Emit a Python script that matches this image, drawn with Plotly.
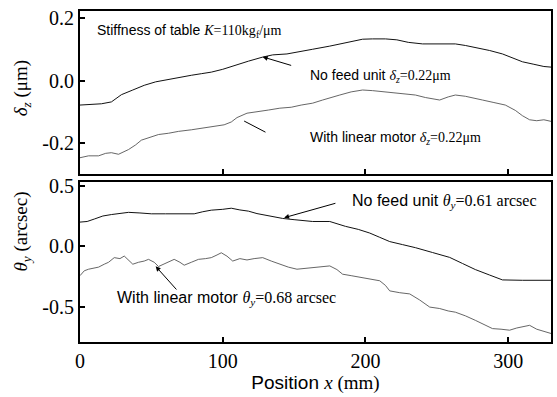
import plotly.graph_objects as go

# Vertical straightness of table (delta_z) vs position
pos_dz_nofeed = [0, 15, 22, 29, 37, 45, 53, 62, 70, 78, 85, 92, 100, 108, 118, 128, 135, 145, 152,
                 163, 175, 185, 192, 198, 205, 214, 222, 230, 240, 250, 263, 270, 277, 287, 296,
                 303, 310, 318, 325, 330]
dz_nofeed = [-0.078, -0.074, -0.068, -0.045, -0.03, -0.015, -0.004, 0.004, 0.01, 0.017, 0.022,
             0.027, 0.036, 0.048, 0.062, 0.075, 0.082, 0.085, 0.09, 0.1, 0.11, 0.12, 0.128, 0.132,
             0.133, 0.133, 0.13, 0.122, 0.117, 0.117, 0.117, 0.112, 0.106, 0.096, 0.085, 0.072,
             0.06, 0.052, 0.045, 0.043]

pos_dz_motor = [0, 6, 13, 18, 22, 27, 34, 39, 43, 49, 55, 62, 69, 78, 87, 94, 101, 106, 110, 117,
                124, 132, 140, 148, 155, 163, 170, 176, 182, 190, 198, 205, 214, 222, 229, 235,
                242, 248, 252, 258, 263, 270, 277, 282, 290, 298, 305, 310, 315, 320, 325, 330]
dz_motor = [-0.246, -0.24, -0.24, -0.232, -0.23, -0.235, -0.22, -0.205, -0.19, -0.182, -0.172,
            -0.168, -0.162, -0.157, -0.151, -0.146, -0.141, -0.132, -0.118, -0.104, -0.1, -0.094,
            -0.088, -0.085, -0.078, -0.072, -0.062, -0.055, -0.046, -0.036, -0.03, -0.032, -0.036,
            -0.041, -0.043, -0.046, -0.054, -0.06, -0.062, -0.052, -0.046, -0.05, -0.056, -0.062,
            -0.07, -0.078, -0.095, -0.112, -0.125, -0.128, -0.125, -0.13]

# Pitching of table (theta_y) vs position
pos_ty_nofeed = [0, 5, 10, 16, 22, 28, 34, 42, 50, 60, 70, 80, 86, 92, 100, 106, 112, 118, 124,
                 132, 142, 150, 163, 175, 186, 195, 203, 210, 217, 226, 235, 247, 259, 268, 277,
                 287, 296, 310, 320, 330]
ty_nofeed = [0.2, 0.205, 0.225, 0.25, 0.262, 0.27, 0.28, 0.275, 0.268, 0.268, 0.268, 0.268, 0.285,
             0.298, 0.305, 0.314, 0.3, 0.29, 0.27, 0.25, 0.23, 0.22, 0.205, 0.205, 0.165, 0.14,
             0.11, 0.075, 0.04, 0.015, -0.01, -0.05, -0.09, -0.14, -0.19, -0.235, -0.275, -0.278,
             -0.278, -0.278]

pos_ty_motor = [0, 3, 6, 10, 13, 17, 20, 24, 28, 31, 34, 37, 41, 45, 48, 52, 55, 60, 66, 70, 73,
                78, 83, 88, 92, 96, 99, 103, 107, 112, 117, 122, 128, 134, 140, 146, 152, 158,
                163, 169, 175, 180, 184, 190, 198, 204, 210, 214, 217, 224, 231, 238, 245, 252,
                258, 263, 270, 277, 283, 289, 295, 301, 306, 311, 315, 320, 325, 330]
ty_motor = [-0.24, -0.2, -0.187, -0.18, -0.17, -0.146, -0.13, -0.092, -0.1, -0.079, -0.11, -0.146,
            -0.13, -0.12, -0.106, -0.13, -0.165, -0.14, -0.106, -0.13, -0.154, -0.13, -0.106, -0.1,
            -0.092, -0.07, -0.052, -0.08, -0.12, -0.1, -0.111, -0.1, -0.092, -0.12, -0.146, -0.17,
            -0.187, -0.18, -0.173, -0.165, -0.16, -0.19, -0.228, -0.24, -0.255, -0.27, -0.282,
            -0.32, -0.365, -0.38, -0.39, -0.44, -0.498, -0.51, -0.53, -0.54, -0.57, -0.607, -0.64,
            -0.675, -0.68, -0.688, -0.67, -0.655, -0.648, -0.68, -0.7, -0.715]

x_ticks = [0, 100, 200, 300]
dz_ticks = [-0.2, 0.0, 0.2]
ty_ticks = [-0.5, 0.0, 0.5]

SERIF = "Liberation Serif, Times New Roman, serif"
SANS = "Liberation Sans, Arial, sans-serif"


def sf(t):
    return f'<span style="font-family:{SERIF}">{t}</span>'


fig = go.Figure()
fig.add_trace(go.Scatter(x=pos_dz_nofeed, y=dz_nofeed, mode="lines",
                         line=dict(color="#111", width=1), xaxis="x2", yaxis="y2"))
fig.add_trace(go.Scatter(x=pos_dz_motor, y=dz_motor, mode="lines",
                         line=dict(color="#555", width=0.9), xaxis="x2", yaxis="y2"))
fig.add_trace(go.Scatter(x=pos_ty_nofeed, y=ty_nofeed, mode="lines",
                         line=dict(color="#111", width=1), xaxis="x", yaxis="y"))
fig.add_trace(go.Scatter(x=pos_ty_motor, y=ty_motor, mode="lines",
                         line=dict(color="#555", width=0.9), xaxis="x", yaxis="y"))

axis_common = dict(showline=True, linecolor="black", linewidth=2, mirror=True,
                   ticks="inside", ticklen=5, tickwidth=1.5, tickcolor="black",
                   showgrid=False, zeroline=False)
tick_font = dict(family=SERIF, size=20, color="black")

fig.update_layout(
    width=557, height=397,
    margin=dict(l=80, r=4, t=7, b=55),
    plot_bgcolor="white", paper_bgcolor="white",
    showlegend=False,
    font=dict(family=SERIF, color="black", size=17),
    xaxis=dict(domain=[0, 1], range=[0, 330], anchor="y",
               tickvals=x_ticks, ticktext=[str(v) for v in x_ticks],
               tickfont=tick_font,
               title=dict(text=f'<span style="font-family:{SANS}">Position </span><i>x</i> (mm)',
                          font=dict(family=SERIF, size=19), standoff=2),
               **axis_common),
    yaxis=dict(domain=[0, 0.4836], range=[-0.785, 0.53], anchor="x",
               tickvals=ty_ticks, ticktext=["-0.5", "0.0", "0.5"],
               tickfont=tick_font, **axis_common),
    xaxis2=dict(domain=[0, 1], range=[0, 330], anchor="y2", matches="x",
                tickvals=x_ticks, showticklabels=False, **axis_common),
    yaxis2=dict(domain=[0.5075, 1], range=[-0.298, 0.222], anchor="x2",
                tickvals=dz_ticks, ticktext=["-0.2", "0.0", "0.2"],
                tickfont=tick_font, **axis_common),
)

ann_font = dict(family=SANS, size=14, color="black")
big_font = dict(family=SANS, size=16, color="black")
annotations = [
    # axis titles for the two panels
    dict(x=-57, y=85, xref="x domain", yref="paper", xanchor="center", yanchor="middle",
         text="<i>δ<sub>z</sub></i> (μm)", textangle=-90, showarrow=False,
         font=dict(family=SERIF, size=19, color="black")),
    dict(x=22, y=230, xref="paper", yref="paper", xanchor="center", yanchor="middle",
         text="<i>θ<sub>y</sub></i> (arcsec)", textangle=-90, showarrow=False,
         font=dict(family=SERIF, size=19, color="black")),
    dict(x=10.5, y=0.157, xref="x2", yref="y2", xanchor="left", yanchor="middle",
         text="Stiffness of table " + sf("<i>K</i>=110kg<sub>f</sub>/μm"), showarrow=False),
    dict(x=159.4, y=0.014, xref="x2", yref="y2", xanchor="left", yanchor="middle",
         text="No feed unit " + sf("<i>δ<sub>z</sub></i>=0.22μm"), showarrow=False),
    dict(x=160, y=-0.183, xref="x2", yref="y2", xanchor="left", yanchor="middle",
         text="With linear motor " + sf("<i>δ<sub>z</sub></i>=0.22μm"), showarrow=False),
    dict(x=189, y=0.366, xref="x", yref="y", xanchor="left", yanchor="middle",
         text="No feed unit " + sf("<i>θ<sub>y</sub></i>=0.61 arcsec"), showarrow=False,
         font=big_font),
    dict(x=24.5, y=-0.43, xref="x", yref="y", xanchor="left", yanchor="middle",
         text="With linear motor " + sf("<i>θ<sub>y</sub></i>=0.68 arcsec"), showarrow=False,
         font=big_font),
]
# pixel-positioned titles: convert to paper fractions
H_PLOT = 397 - 7 - 55
for a in annotations[:2]:
    a["y"] = (397 - 55 - a["y"]) / H_PLOT
annotations[0]["x"] = (22 - 80) / (557 - 80 - 4)
annotations[0]["xref"] = "paper"
annotations[1]["x"] = (22 - 80) / (557 - 80 - 4)

# leader arrows
arrows = [
    dict(x=128, y=0.0756, ax=149, ay=0.047, xref="x2", yref="y2", axref="x2", ayref="y2",
         arrowhead=2),
    dict(x=115, y=-0.129, ax=131, ay=-0.167, xref="x2", yref="y2", axref="x2", ayref="y2",
         arrowhead=0),
    dict(x=143, y=0.236, ax=180, ay=0.358, xref="x", yref="y", axref="x", ayref="y",
         arrowhead=2),
    dict(x=53, y=-0.163, ax=68.5, ay=-0.366, xref="x", yref="y", axref="x", ayref="y",
         arrowhead=2),
]
for a in annotations:
    a.setdefault("font", ann_font)
for a in arrows:
    a.update(text="", showarrow=True, arrowsize=1, arrowwidth=1, arrowcolor="black",
             standoff=0, startstandoff=0)
fig.update_layout(annotations=annotations + arrows)

fig.write_html("out.html")
